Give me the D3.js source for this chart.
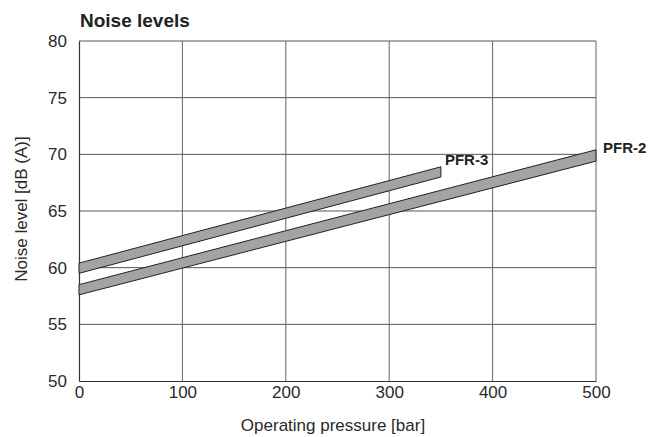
<!DOCTYPE html>
<html>
<head>
<meta charset="utf-8">
<script src="https://cdn.jsdelivr.net/npm/d3@7"></script>
<style>
  body { margin: 0; background: #fff; }
  text { font-family: "Liberation Sans", Arial, sans-serif; }
</style>
</head>
<body>
<svg id="chart" width="660" height="437"></svg>
<script>
// chart data
var xTicks = [0, 100, 200, 300, 400, 500];
var yTicks = [50, 55, 60, 65, 70, 75, 80];

var pfr3Pressure = [0, 350];
var pfr3Low = [59.5, 68.0];
var pfr3High = [60.4, 68.9];

var pfr2Pressure = [0, 500];
var pfr2Low = [57.6, 69.4];
var pfr2High = [58.5, 70.4];

var series = [
    {name: 'PFR-3', pressure: pfr3Pressure, low: pfr3Low, high: pfr3High},
    {name: 'PFR-2', pressure: pfr2Pressure, low: pfr2Low, high: pfr2High}
];

var svg = d3.select('#chart');

var x = d3.scaleLinear().domain([0, 500]).range([79, 596]);
var y = d3.scaleLinear().domain([50, 80]).range([381, 41]);

// grid
svg.append('g')
    .selectAll('line')
    .data(yTicks.slice(1))
    .enter()
    .append('line')
    .attr('x1', x(0)).attr('x2', x(500))
    .attr('y1', function(d) { return y(d); })
    .attr('y2', function(d) { return y(d); })
    .attr('stroke', '#555')
    .attr('stroke-width', 1);

svg.append('g')
    .selectAll('line')
    .data(xTicks.slice(1))
    .enter()
    .append('line')
    .attr('x1', function(d) { return x(d); })
    .attr('x2', function(d) { return x(d); })
    .attr('y1', y(50)).attr('y2', y(80))
    .attr('stroke', '#666')
    .attr('stroke-width', 1);

// axes
var xAxis = svg.append('g')
    .attr('transform', 'translate(0,' + y(50) + ')')
    .call(d3.axisBottom(x).tickValues(xTicks).tickSize(0).tickPadding(5));
var yAxis = svg.append('g')
    .attr('transform', 'translate(' + x(0) + ',0)')
    .call(d3.axisLeft(y).tickValues(yTicks).tickSize(0).tickPadding(12));

[xAxis, yAxis].forEach(function(ax) {
    ax.select('.domain').attr('stroke', '#333').attr('stroke-width', 1.2);
    ax.selectAll('text')
        .attr('font-size', 17)
        .attr('fill', '#2a2a2a')
        .style('font-family', '"Liberation Sans", Arial, sans-serif');
});

// bands
var area = d3.area()
    .x(function(d) { return x(d.p); })
    .y0(function(d) { return y(d.lo); })
    .y1(function(d) { return y(d.hi); });

series.forEach(function(s) {
    var pts = s.pressure.map(function(p, i) {
        return {p: p, lo: s.low[i], hi: s.high[i]};
    });
    svg.append('path')
        .datum(pts)
        .attr('d', area)
        .attr('fill', '#a3a3a3')
        .attr('stroke', '#222')
        .attr('stroke-width', 1)
        .attr('stroke-linejoin', 'miter');
});

// series labels
svg.append('text')
    .attr('x', x(350) + 4)
    .attr('y', 165)
    .attr('font-size', 15)
    .attr('font-weight', 'bold')
    .attr('fill', '#222')
    .text('PFR-3');

svg.append('text')
    .attr('x', x(500) + 7)
    .attr('y', 153)
    .attr('font-size', 15)
    .attr('font-weight', 'bold')
    .attr('fill', '#222')
    .text('PFR-2');

// titles
svg.append('text')
    .attr('x', 80)
    .attr('y', 27)
    .attr('font-size', 19)
    .attr('font-weight', 'bold')
    .attr('fill', '#222')
    .text('Noise levels');

svg.append('text')
    .attr('x', 333)
    .attr('y', 431)
    .attr('text-anchor', 'middle')
    .attr('font-size', 17)
    .attr('fill', '#2a2a2a')
    .text('Operating pressure [bar]');

svg.append('text')
    .attr('transform', 'translate(27,' + 209 + ') rotate(-90)')
    .attr('text-anchor', 'middle')
    .attr('font-size', 17)
    .attr('fill', '#2a2a2a')
    .text('Noise level [dB (A)]');
</script>
</body>
</html>
